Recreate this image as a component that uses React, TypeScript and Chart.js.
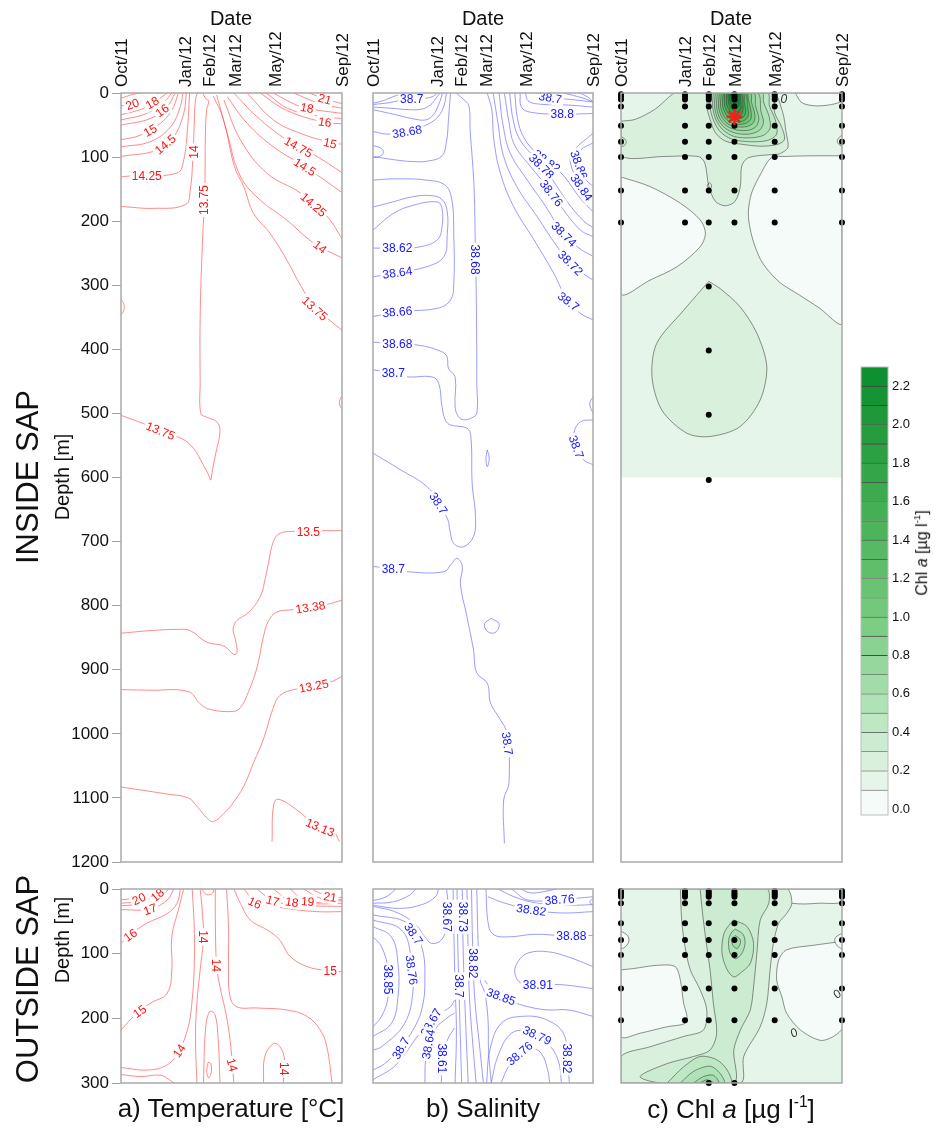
import React, { useEffect, useRef } from "react";
import { Chart, registerables } from "chart.js";

Chart.register(...registerables);

const FONT = "'Liberation Sans', Arial, Helvetica, sans-serif";
Chart.defaults.font.family = FONT;
Chart.defaults.color = "#111";

// ---------------- axes ----------------
const sampleDays = [0, 97, 133, 172, 233, 335];
const dateLabels = ["Oct/11", "Jan/12", "Feb/12", "Mar/12", "May/12", "Sep/12"];
const dayMax = 335;
const depthMaxInside = 1200;
const depthMaxOutside = 300;
const depthStep = 100;

// ---------------- Chl a sampling ----------------
const chlDepthsInside = [2, 6, 10, 21, 51, 76, 100, 152, 202];
const chlDepthsInsideDeep = [302, 402, 502, 604]; // Feb/12 only
const chlDepthsOutside = [3, 6, 9, 12, 22, 53, 79, 102, 154, 203];
const chlDepthsOutsideDeep = [300]; // Feb/12 and Mar/12
const chlMaxStar = [[172, 37]];

// ---------------- colour bar ----------------
const chlLevels = [0.0, 0.1, 0.2, 0.3, 0.4, 0.5, 0.6, 0.7, 0.8, 0.9, 1.0, 1.1, 1.2, 1.3, 1.4, 1.5, 1.6, 1.7, 1.8, 1.9, 2.0, 2.1, 2.2, 2.3];
const chlTicks = [0.0, 0.2, 0.4, 0.6, 0.8, 1.0, 1.2, 1.4, 1.6, 1.8, 2.0, 2.2];
const chlBandColors = ["#f4fbf8", "#e5f5e9", "#d8f0dc", "#cbecd0", "#bee7c4", "#b0e2b7", "#a2dca9", "#95d79c", "#89d290", "#7ecd85", "#74c87b", "#6ac372", "#60be6a", "#57b963", "#4eb45c", "#45af55", "#3daa4f", "#35a549", "#2da043", "#259c3e", "#1e9839", "#169435", "#0e9031"];

// ---------------- a) Temperature, inside SAP  [day, depth] ----------------
const tIn21L = [[0, 8], [19, 2], [30, 0]];
const tIn20L = [[0, 20], [19, 17], [44, 8], [57, 0]];
const tIn18L = [[0, 34], [34, 24], [55, 11], [70, 0]];
const tIn17L = [[0, 42], [39, 32], [65, 14], [77, 0]];
const tIn16L = [[0, 50], [44, 40], [70, 21], [82, 0]];
const tIn15L = [[0, 73], [29, 66], [60, 47], [77, 27], [87, 0]];
const tIn1475L = [[0, 84], [44, 76], [75, 53], [90, 21], [94, 0]];
const tIn145L = [[0, 99], [55, 89], [80, 68], [95, 32], [99, 0]];
const tIn1425L = [[0, 131], [19, 129], [85, 125], [95, 105], [101, 53], [104, 0]];
const tIn14L = [[0, 177], [50, 180], [98, 174], [105, 151], [109, 100], [111, 50], [113, 10], [116, 0]];
const tIn1375 = [[124, 0], [128, 8], [133, 13], [130, 25], [128, 60], [127, 150], [123, 245], [120, 350], [120, 450], [121, 500], [130, 506], [145, 513], [150, 528], [143, 565], [138, 592], [136, 604], [133, 597], [130, 590], [102, 546], [60, 528], [34, 516], [0, 503]];
const tIn21R = [[285, 0], [309, 9], [336, 17]];
const tIn20R = [[262, 0], [300, 16], [336, 24]];
const tIn18R = [[231, 0], [262, 17], [282, 24], [336, 32]];
const tIn17R = [[220, 0], [255, 25], [300, 36], [336, 40]];
const tIn16R = [[211, 0], [251, 27], [309, 46], [336, 48]];
const tIn15R = [[191, 0], [231, 42], [272, 63], [317, 77], [336, 80]];
const tIn1475R = [[171, 0], [206, 37], [251, 73], [297, 99], [336, 125]];
const tIn145R = [[161, 6], [191, 47], [231, 84], [282, 117], [336, 156]];
const tIn1425R = [[156, 11], [181, 73], [221, 125], [272, 156], [312, 192], [336, 229]];
const tIn14R = [[145, 3], [161, 63], [181, 130], [211, 167], [251, 198], [292, 234], [336, 258]];
const tIn1375R = [[140, 5], [155, 40], [172, 115], [186, 146], [201, 188], [226, 219], [251, 260], [272, 300], [294, 335], [318, 356], [336, 371]];
const tInLoopL = [[0, 322], [4, 328], [5, 335], [3, 342], [0, 346]];
const tInLoopR = [[336, 472], [332, 478], [331, 485], [333, 490], [336, 494]];
const tIn135 = [[336, 683], [302, 683], [267, 684], [241, 687], [231, 700], [224, 731], [219, 756], [211, 786], [193, 811], [176, 823], [170, 836], [173, 851], [176, 873], [171, 876], [156, 863], [130, 857], [105, 839], [87, 837], [44, 839], [0, 843]];
const tIn1338 = [[336, 791], [312, 798], [262, 806], [236, 810], [224, 823], [216, 848], [206, 897], [191, 940], [181, 959], [171, 965], [135, 962], [120, 953], [102, 934], [44, 932], [0, 931]];
const tIn1325 = [[336, 910], [317, 919], [262, 931], [241, 940], [231, 959], [216, 1008], [201, 1045], [186, 1082], [171, 1106], [161, 1119], [140, 1137], [130, 1131], [115, 1113], [102, 1100], [70, 1094], [0, 1083]];
const tIn1313 = [[229, 1168], [231, 1113], [238, 1102], [267, 1119], [292, 1140], [322, 1153], [331, 1168]];
const tempInsideLines = [tIn21L, tIn20L, tIn18L, tIn17L, tIn16L, tIn15L, tIn1475L, tIn145L, tIn1425L, tIn14L, tIn1375, tIn21R, tIn20R, tIn18R, tIn17R, tIn16R, tIn15R, tIn1475R, tIn145R, tIn1425R, tIn14R, tIn1375R, tInLoopL, tInLoopR, tIn135, tIn1338, tIn1325, tIn1313];
const tempInsideLabels = [
  [17, 17, "20", -20], [47, 15, "18", -30], [62, 27, "16", -35], [44, 58, "15", -30], [67, 80, "14.5", -40], [39, 129, "14.25", 0],
  [110, 92, "14", -90], [126, 167, "13.75", -90], [60, 527, "13.75", 22],
  [309, 9, "21", 15], [282, 23, "18", 10], [309, 45, "16", 8], [317, 78, "15", 12], [269, 84, "14.75", 29], [279, 115, "14.5", 32],
  [292, 174, "14.25", 41], [302, 240, "14", 38], [294, 336, "13.75", 42],
  [284, 684, "13.5", 0], [287, 802, "13.38", -9], [292, 925, "13.25", -11], [302, 1146, "13.13", 23],
];

// ---------------- a) Temperature, outside SAP ----------------
const tOut20L = [[0, 17], [19, 14], [44, 7], [57, 0]];
const tOut19L = [[0, 22], [29, 19], [55, 9], [65, 0]];
const tOut18L = [[0, 26], [39, 22], [62, 11], [72, 0]];
const tOut17L = [[0, 32], [44, 31], [70, 17], [80, 0]];
const tOut16L = [[0, 84], [14, 71], [39, 53], [70, 38], [85, 22], [90, 0]];
const tOut15L = [[0, 218], [24, 192], [44, 177], [70, 161], [77, 125], [77, 74], [87, 32], [95, 0]];
const tOut14L = [[0, 276], [40, 280], [70, 272], [88, 250], [102, 213], [108, 170], [111, 120], [111, 60], [108, 0]];
const tOut14BL = [[0, 287], [30, 290], [60, 288], [75, 296], [80, 300]];
const tOut14a = [[120, 0], [123, 32], [125, 74], [120, 125], [115, 177], [113, 228], [115, 300]];
const tOut14b = [[143, 0], [143, 48], [145, 120], [150, 151], [161, 203], [168, 259], [171, 300]];
const tOutTopLoop = [[123, 0], [127, 7], [133, 9], [139, 6], [141, 0]];
const tOutArch = [[125, 300], [128, 218], [134, 190], [142, 193], [147, 228], [150, 300]];
const tOutLoopB = [[132, 268], [136, 270], [137, 282], [133, 292], [130, 282], [132, 268]];
const tOut145R = [[160, 0], [163, 60], [163, 120], [165, 165], [175, 182], [206, 184], [251, 187], [282, 197], [302, 218], [312, 244], [320, 300]];
const tOut15R = [[171, 0], [181, 22], [196, 48], [221, 63], [236, 74], [244, 84], [256, 104], [282, 120], [312, 126], [336, 128]];
const tOut16R = [[186, 0], [206, 21], [251, 30], [297, 35], [336, 35]];
const tOut17R = [[206, 0], [231, 18], [272, 25], [336, 27]];
const tOut18R = [[231, 0], [259, 20], [297, 23], [336, 22]];
const tOut19R = [[256, 0], [282, 19], [336, 18]];
const tOut20R = [[277, 0], [302, 14], [336, 16]];
const tOut21R = [[292, 2], [317, 12], [336, 13]];
const tOut14Blob = [[216, 300], [218, 259], [231, 239], [241, 244], [248, 265], [246, 300]];
const tempOutsideLines = [tOut20L, tOut19L, tOut18L, tOut17L, tOut16L, tOut15L, tOut14L, tOut14BL, tOut14a, tOut14b, tOutTopLoop, tOutArch, tOutLoopB, tOut145R, tOut15R, tOut16R, tOut17R, tOut18R, tOut19R, tOut20R, tOut21R, tOut14Blob];
const tempOutsideLabels = [
  [27, 15, "20", -25], [55, 9, "18", -40], [44, 31, "17", -20], [14, 71, "16", -35], [28, 189, "15", -35], [88, 250, "14", -55],
  [125, 74, "14", 90], [145, 118, "14", 90], [169, 272, "14", 75], [247, 278, "14", 90],
  [203, 21, "16", 25], [230, 18, "17", 15], [259, 20, "18", 8], [283, 19, "19", 5], [317, 12, "21", 8], [317, 126, "15", 0],
];

// ---------------- b) Salinity, inside SAP ----------------
const sIn1 = [[0, 16], [15, 12], [30, 6], [45, 0]];
const sIn2 = [[0, 18], [25, 15], [50, 10], [70, 9], [90, 6], [98, 0]];
const sIn3 = [[0, 22], [30, 24], [55, 26], [75, 25], [88, 18], [96, 8], [102, 0]];
const sIn4 = [[0, 26], [35, 34], [60, 40], [80, 42], [92, 34], [100, 18], [106, 0]];
const sIn5 = [[0, 60], [20, 64], [45, 62], [65, 56], [85, 48], [100, 36], [108, 20], [112, 0]];
const sIn6 = [[0, 99], [31, 104], [60, 107], [85, 106], [105, 98], [112, 75], [115, 40], [118, 0]];
const sInLobe = [[0, 82], [12, 86], [16, 93], [10, 99], [0, 101]];
const sIn62 = [[0, 214], [31, 188], [62, 175], [98, 170], [105, 180], [105, 209], [98, 229], [72, 240], [37, 242], [0, 242]];
const sIn64 = [[0, 178], [30, 170], [60, 162], [87, 160], [105, 166], [113, 185], [113, 220], [108, 255], [82, 271], [37, 280], [0, 287]];
const sIn66 = [[0, 136], [31, 134], [82, 136], [110, 144], [120, 167], [123, 220], [123, 297], [118, 323], [98, 336], [37, 341], [0, 349]];
const sIn68 = [[0, 389], [37, 391], [72, 394], [98, 401], [112, 410], [115, 430], [125, 443], [125, 490], [130, 505], [138, 510], [150, 507], [158, 500], [158, 450], [158, 400], [157, 300], [156, 250], [154, 150], [151, 100], [148, 60], [146, 20], [138, 10], [130, 3], [128, 0]];
const sIn70a = [[0, 432], [31, 437], [52, 443], [90, 443], [100, 453], [105, 489], [110, 510], [118, 518], [143, 523], [149, 536], [151, 609], [156, 661], [153, 692], [138, 708], [123, 703], [117, 682], [114, 666], [100, 640], [82, 614], [42, 588], [0, 562]];
const sIn70b = [[0, 739], [31, 742], [52, 747], [108, 747], [120, 734], [128, 726], [136, 739], [133, 765], [143, 817], [153, 869], [158, 905], [174, 921], [179, 952], [194, 978], [204, 999], [207, 1077], [199, 1103], [200, 1171]];
const sInLoopA = [[174, 557], [177, 570], [174, 583], [172, 570], [174, 557]];
const sInLoopB = [[180, 820], [192, 828], [186, 842], [174, 840], [170, 828], [180, 820]];
const sInR70small = [[335, 474], [330, 485], [335, 500]];
const sInR70 = [[335, 510], [316, 513], [306, 531], [311, 557], [321, 573], [335, 580]];
const sInR1 = [[174, 0], [181, 27], [184, 73], [194, 125], [214, 177], [245, 229], [275, 281], [296, 323], [316, 344], [335, 354]];
const sInR2 = [[183, 0], [190, 45], [199, 99], [219, 146], [250, 193], [280, 239], [306, 271], [335, 292]];
const sInR3 = [[192, 0], [198, 50], [209, 94], [235, 136], [263, 177], [286, 214], [311, 240], [335, 255]];
const sInR4 = [[200, 0], [207, 45], [215, 80], [240, 115], [265, 146], [286, 177], [316, 214], [335, 224]];
const sInR5 = [[208, 0], [214, 45], [225, 75], [250, 105], [273, 135], [296, 170], [321, 200], [335, 210]];
const sInR6 = [[216, 0], [220, 40], [230, 70], [250, 95], [270, 110], [291, 130], [316, 165], [335, 185]];
const sInR7 = [[335, 63], [306, 89], [300, 104], [310, 134], [326, 160], [335, 168]];
const sInR8 = [[335, 78], [316, 89], [311, 104], [321, 131], [335, 146]];
const sInTop80 = [[224, 0], [226, 22], [240, 30], [286, 33], [335, 32]];
const sInTop82 = [[232, 0], [236, 12], [250, 17], [300, 19], [335, 22]];
const sInTop70 = [[248, 0], [270, 7], [300, 10], [335, 14]];
const sInRad1 = [[290, 0], [320, 8], [335, 14]];
const sInRad2 = [[315, 0], [328, 7], [335, 14]];
const salInsideLines = [sIn1, sIn2, sIn3, sIn4, sIn5, sIn6, sInLobe, sIn62, sIn64, sIn66, sIn68, sIn70a, sIn70b, sInLoopA, sInLoopB, sInR70small, sInR70, sInR1, sInR2, sInR3, sInR4, sInR5, sInR6, sInR7, sInR8, sInTop80, sInTop82, sInTop70, sInRad1, sInRad2];
const salInsideLabels = [
  [59, 9, "38.7", 0], [52, 60, "38.68", -10], [37, 242, "38.62", 0], [37, 280, "38.64", -8], [37, 341, "38.66", -5], [37, 391, "38.68", 0],
  [156, 260, "38.68", 90], [31, 437, "38.7", 0], [100, 640, "38.7", 57], [31, 742, "38.7", 0], [205, 1015, "38.7", 82], [310, 552, "38.7", 70],
  [270, 7, "38.7", 10], [288, 33, "38.8", 0], [265, 106, "38.82", 36], [257, 114, "38.78", 45], [272, 156, "38.76", 52],
  [291, 220, "38.74", 45], [301, 265, "38.72", 45], [298, 325, "38.7", 38], [314, 112, "38.86", 70], [318, 147, "38.84", 55],
];

// ---------------- b) Salinity, outside SAP ----------------
const sOutL1 = [[0, 74], [13, 89], [23, 125], [23, 167], [13, 197], [0, 213]];
const sOutL2 = [[0, 58], [28, 74], [38, 115], [38, 167], [28, 208], [0, 228]];
const sOutL3 = [[0, 48], [43, 63], [58, 105], [61, 156], [48, 208], [13, 244], [0, 249]];
const sOutL4 = [[0, 40], [53, 53], [74, 89], [79, 141], [74, 187], [58, 223], [38, 249], [18, 270], [0, 280]];
const sOutL5 = [[0, 27], [33, 35], [63, 53], [79, 74], [89, 84], [104, 79], [112, 58], [114, 22], [112, 0]];
const sOutTL1 = [[0, 18], [20, 12], [35, 0]];
const sOutTL2 = [[0, 22], [30, 20], [55, 10], [65, 0]];
const sOutTL3 = [[0, 25], [40, 30], [75, 24], [95, 12], [100, 0]];
const sOutB1 = [[0, 295], [35, 272], [70, 225], [99, 195], [118, 182], [124, 172]];
const sOutB2 = [[79, 300], [81, 259], [94, 218], [112, 200], [124, 192]];
const sOutB3 = [[104, 300], [106, 259], [114, 232], [124, 215]];
const sOutV1 = [[122, 0], [123, 60], [125, 150], [127, 220], [125, 300]];
const sOutV2 = [[128, 0], [129, 80], [131, 160], [133, 230], [135, 300]];
const sOutV3 = [[136, 0], [137, 80], [139, 150], [142, 230], [145, 300]];
const sOutV4 = [[143, 0], [145, 100], [147, 170], [152, 240], [157, 300]];
const sOutV5 = [[150, 0], [152, 100], [155, 170], [162, 240], [168, 300]];
const sOutV6 = [[158, 0], [160, 80], [163, 140], [170, 160], [175, 200], [176, 250], [180, 300]];
const sOut88 = [[172, 0], [175, 50], [183, 70], [206, 74], [246, 70], [287, 72], [335, 72]];
const sOut91 = [[335, 120], [297, 105], [266, 97], [236, 99], [221, 112], [216, 130], [226, 146], [251, 148], [287, 148], [335, 154]];
const sOut85 = [[170, 141], [185, 161], [206, 172], [236, 182], [266, 187], [297, 187], [335, 197]];
const sOutTR1 = [[175, 12], [201, 22], [241, 32], [287, 37], [335, 35]];
const sOutTR2 = [[211, 0], [236, 17], [287, 16], [335, 12]];
const sOutTR3 = [[190, 0], [215, 12], [240, 20], [270, 24], [310, 25], [335, 24]];
const sOutTR4 = [[225, 0], [240, 6], [260, 4], [280, 0]];
const sOutTRloop = [[335, 15], [330, 20], [335, 25]];
const sOutA1 = [[195, 300], [206, 275], [223, 254], [241, 246], [256, 254], [266, 280], [269, 300]];
const sOutA2 = [[180, 300], [190, 259], [211, 223], [239, 221], [266, 239], [282, 265], [287, 300]];
const sOutA3 = [[173, 300], [178, 249], [195, 208], [226, 197], [266, 203], [292, 228], [299, 300]];
const salOutsideLines = [sOutL1, sOutL2, sOutL3, sOutL4, sOutL5, sOutTL1, sOutTL2, sOutTL3, sOutB1, sOutB2, sOutB3, sOutV1, sOutV2, sOutV3, sOutV4, sOutV5, sOutV6, sOut88, sOut91, sOut85, sOutTR1, sOutTR2, sOutTR3, sOutTR4, sOutTRloop, sOutA1, sOutA2, sOutA3];
const salOutsideLabels = [
  [113, 43, "38.67", 90], [137, 43, "38.73", 90], [153, 115, "38.82", 90], [131, 150, "38.7", 90],
  [62, 69, "38.7", 55], [59, 125, "38.76", 82], [23, 140, "38.85", 90], [302, 72, "38.88", 0], [251, 148, "38.91", 0],
  [195, 166, "38.85", 20], [241, 32, "38.82", 8], [284, 16, "38.76", -5], [250, 226, "38.79", 25], [223, 254, "38.76", -40],
  [296, 262, "38.82", 90], [42, 246, "38.7", -60], [88, 206, "38.67", -60], [84, 240, "38.64", -80], [106, 262, "38.61", 90],
];

// ---------------- c) Chl a, inside SAP: filled contour regions [day, depth] + level ----------------
const cInBase = [[0, 0], [335, 0], [335, 600], [0, 600]];
const cInWhiteL = [[0, 131], [44, 146], [90, 172], [120, 198], [128, 219], [120, 240], [85, 271], [44, 292], [0, 313]];
const cInWhiteR = [[335, 98], [290, 98], [250, 99], [228, 101], [213, 124], [198, 156], [193, 187], [196, 213], [203, 239], [215, 266], [240, 295], [270, 315], [300, 335], [335, 359]];
const cInWhiteTR = [[264, 0], [274, 15], [294, 20], [319, 18], [335, 12], [335, 0]];
const cInUpper = [[0, 44], [22, 41], [52, 25], [72, 7], [82, 0], [230, 0], [245, 30], [250, 60], [253, 85], [240, 95], [228, 96], [193, 101], [183, 114], [181, 145], [173, 169], [158, 176], [143, 169], [133, 145], [127, 109], [117, 99], [67, 99], [0, 98]];
const cInDrop = [[133, 294], [95, 339], [54, 391], [47, 443], [62, 495], [100, 531], [135, 536], [180, 521], [211, 479], [221, 427], [206, 375], [180, 333], [150, 305]];
const cInRing1 = [[133, 0], [130, 20], [135, 41], [143, 62], [158, 75], [183, 80], [213, 83], [238, 80], [248, 72], [243, 52], [233, 31], [228, 0]];
const cInRing2 = [[137, 0], [135, 22], [140, 42], [150, 60], [168, 72], [195, 76], [222, 74], [236, 64], [234, 42], [225, 20], [222, 0]];
const cInRing3 = [[140, 0], [139, 22], [144, 42], [155, 58], [172, 68], [196, 70], [216, 66], [226, 55], [224, 35], [216, 14], [214, 0]];
const cInRing4 = [[143, 0], [142, 22], [147, 41], [158, 55], [175, 63], [195, 64], [210, 58], [216, 46], [212, 28], [207, 0]];
const cInRing5 = [[146, 0], [145, 22], [150, 40], [161, 52], [177, 58], [194, 58], [205, 52], [209, 40], [204, 20], [201, 0]];
const cInRing6 = [[149, 0], [148, 22], [153, 38], [163, 49], [178, 53], [192, 52], [201, 46], [203, 34], [198, 15], [196, 0]];
const cInRing7 = [[152, 0], [151, 21], [156, 36], [166, 46], [179, 49], [190, 47], [197, 40], [197, 28], [193, 10], [191, 0]];
const cInRing8 = [[155, 0], [154, 20], [159, 33], [168, 42], [179, 45], [188, 42], [193, 35], [192, 22], [188, 0]];
const cInRing9 = [[157, 0], [157, 19], [162, 31], [170, 38], [179, 40], [186, 37], [189, 29], [187, 15], [185, 0]];
const cInRing10 = [[160, 0], [160, 17], [165, 28], [172, 34], [179, 35], [184, 31], [185, 22], [182, 0]];
const cInRing11 = [[162, 0], [163, 15], [167, 24], [173, 29], [179, 29], [182, 23], [181, 10], [180, 0]];
const cInRing12 = [[164, 0], [165, 12], [169, 20], [174, 23], [178, 21], [179, 12], [178, 0]];
const cInRing13 = [[166, 0], [167, 10], [171, 16], [175, 17], [177, 10], [176, 0]];
const chlInsideRegions = [cInBase, cInWhiteL, cInWhiteR, cInWhiteTR, cInUpper, cInDrop, cInRing1, cInRing2, cInRing3, cInRing4, cInRing5, cInRing6, cInRing7, cInRing8, cInRing9, cInRing10, cInRing11, cInRing12, cInRing13];
const chlInsideRegionLevels = [0.1, 0.0, 0.0, 0.0, 0.2, 0.2, 0.3, 0.4, 0.5, 0.6, 0.7, 0.9, 1.1, 1.3, 1.5, 1.7, 1.9, 2.1, 2.2];
const cInLoopL = [[0, 68], [6, 72], [8, 77], [5, 82], [0, 84]];
const cInLoopR = [[335, 66], [330, 70], [328, 76], [331, 81], [335, 83]];
const cInLoopFeb = [[134, 140], [137, 143], [136, 149], [132, 148], [131, 143], [134, 140]];
const chlInsideLines = [cInLoopL, cInLoopR, cInLoopFeb];
const chlInsideLabels = [[247, 9, "0", 0]];

// ---------------- c) Chl a, outside SAP ----------------
const cOutBase = [[0, 0], [335, 0], [335, 300], [0, 300]];
const cOutWhiteL = [[0, 125], [19, 123], [55, 118], [82, 120], [90, 141], [95, 177], [100, 197], [97, 208], [70, 213], [29, 223], [0, 228]];
const cOutWhiteR = [[336, 81], [292, 87], [251, 94], [239, 110], [236, 141], [244, 167], [251, 192], [272, 218], [302, 234], [322, 228], [336, 213]];
const cOutWhiteTR = [[232, 0], [245, 18], [270, 23], [300, 22], [335, 20], [335, 0]];
const cOutBumpL = [[0, 65], [10, 72], [12, 80], [8, 88], [0, 92]];
const cOutBumpR = [[336, 68], [326, 74], [324, 80], [328, 88], [336, 92]];
const cOutBand2 = [[90, 0], [251, 0], [259, 22], [251, 38], [239, 53], [231, 84], [226, 125], [221, 177], [211, 213], [186, 259], [181, 300], [0, 300], [0, 259], [44, 244], [95, 228], [125, 218], [130, 187], [120, 156], [105, 125], [97, 89], [92, 48]];
const cOutBand3 = [[120, 0], [221, 0], [224, 22], [211, 48], [206, 99], [201, 151], [196, 187], [181, 218], [171, 249], [171, 300], [60, 300], [29, 290], [70, 270], [110, 259], [135, 249], [145, 223], [140, 177], [135, 125], [128, 74], [123, 32]];
const cOutCore1 = [[171, 48], [191, 58], [201, 84], [196, 115], [181, 130], [171, 136], [161, 125], [153, 99], [156, 69], [166, 53]];
const cOutCore2 = [[173, 62], [185, 70], [188, 84], [183, 100], [173, 108], [165, 98], [163, 80], [167, 68]];
const cOutCore3 = [[173, 72], [180, 77], [181, 84], [176, 92], [170, 88], [168, 78]];
const cOutDeep1 = [[70, 300], [95, 275], [120, 259], [145, 264], [161, 280], [166, 300]];
const cOutDeep2 = [[90, 300], [110, 282], [135, 274], [150, 285], [156, 300]];
const cOutDeep3 = [[110, 300], [125, 290], [140, 288], [148, 300]];
const cOutDeep4 = [[120, 300], [130, 295], [140, 300]];
const chlOutsideRegions = [cOutBase, cOutWhiteL, cOutWhiteR, cOutWhiteTR, cOutBumpL, cOutBumpR, cOutBand2, cOutBand3, cOutCore1, cOutCore2, cOutCore3, cOutDeep1, cOutDeep2, cOutDeep3, cOutDeep4];
const chlOutsideRegionLevels = [0.1, 0.0, 0.0, 0.0, 0.0, 0.0, 0.2, 0.3, 0.4, 0.5, 0.6, 0.4, 0.5, 0.6, 0.7];
const chlOutsideLabels = [[327, 162, "0", -45], [262, 222, "0", -30]];

// ---------------- layout (pixels) ----------------
const PAGE_W = 937;
const PAGE_H = 1129;
const RECT = {
  aTop: { l: 121, t: 93, r: 342, b: 862 },
  bTop: { l: 373, t: 93, r: 593, b: 862 },
  cTop: { l: 621, t: 93, r: 842, b: 862 },
  aBot: { l: 121, t: 889, r: 342, b: 1083 },
  bBot: { l: 373, t: 889, r: 593, b: 1083 },
  cBot: { l: 621, t: 889, r: 842, b: 1083 },
  bar: { l: 861, t: 367, r: 888, b: 815 },
};
const TEMP_LINE = "rgba(255,70,70,0.7)";
const TEMP_TEXT = "#ff1010";
const SAL_LINE = "rgba(95,95,255,0.7)";
const SAL_TEXT = "#1515ff";
const FRAME = "#a9a9a9";
const CB_MIN = -0.03;
const DATE_LABEL_SHIFT = 22;

const pts = (a) => a.map(([x, y]) => ({ x, y }));
const bandColor = (level) => chlBandColors[Math.max(0, Math.min(22, Math.round(level * 10)))];

function lineSet(arr, color) {
  return { data: pts(arr), borderColor: color, borderWidth: 0.9, pointRadius: 0, tension: 0.4, fill: false };
}

function regionSet(arr, level, border) {
  return {
    data: pts([...arr, arr[0]]),
    borderColor: border ? "rgba(60,60,60,0.8)" : "rgba(0,0,0,0)",
    borderWidth: border ? 0.7 : 0,
    backgroundColor: bandColor(level),
    fill: "shape",
    pointRadius: 0,
    tension: border ? 0.3 : 0,
  };
}

function labelPlugin(items, color, size, italic, backdrop) {
  return {
    id: "contourLabels",
    afterDatasetsDraw(chart) {
      const { ctx, chartArea: a, scales } = chart;
      ctx.save();
      ctx.beginPath();
      ctx.rect(a.left, a.top, a.right - a.left, a.bottom - a.top);
      ctx.clip();
      ctx.font = `${italic ? "italic " : ""}${size}px ${FONT}`;
      ctx.textAlign = "center";
      ctx.textBaseline = "middle";
      for (const [x, y, text, rot] of items) {
        const px = scales.x.getPixelForValue(x);
        const py = scales.y.getPixelForValue(y);
        ctx.save();
        ctx.translate(px, py);
        ctx.rotate((rot * Math.PI) / 180);
        const w = ctx.measureText(text).width;
        if (backdrop) {
          ctx.fillStyle = backdrop;
          ctx.fillRect(-w / 2 - 2, -size / 2 - 1, w + 4, size + 2);
        }
        ctx.fillStyle = color;
        ctx.fillText(text, 0, 1);
        ctx.restore();
      }
      ctx.restore();
    },
  };
}

function framePlugin(color, width) {
  return {
    id: "frame",
    afterDraw(chart) {
      const { ctx, chartArea: a } = chart;
      ctx.save();
      ctx.strokeStyle = color;
      ctx.lineWidth = width;
      ctx.strokeRect(a.left, a.top, a.right - a.left, a.bottom - a.top);
      ctx.restore();
    },
  };
}

function panelConfig({ rect, yMax, yAxis, dates, datasets, plugins }) {
  const { l, t, r, b } = rect;
  return {
    type: "line",
    data: { datasets },
    options: {
      responsive: false,
      animation: false,
      events: [],
      layout: { padding: { left: yAxis ? 0 : l, top: dates ? 0 : t, right: PAGE_W - r, bottom: PAGE_H - b } },
      plugins: { legend: { display: false }, tooltip: { enabled: false } },
      scales: {
        x: {
          type: "linear",
          position: "top",
          min: 0,
          max: dayMax,
          display: dates,
          afterBuildTicks: (s) => {
            s.ticks = sampleDays.map((v) => ({ value: v }));
          },
          afterFit: (s) => {
            if (dates) s.height = t;
          },
          ticks: {
            autoSkip: false,
            minRotation: 90,
            maxRotation: 90,
            padding: 6,
            labelOffset: DATE_LABEL_SHIFT,
            color: "#111",
            font: { size: 17 },
            callback: (v, i) => dateLabels[i],
          },
          grid: { display: false, drawTicks: false },
          border: { display: false },
        },
        y: {
          type: "linear",
          reverse: true,
          min: 0,
          max: yMax,
          display: yAxis,
          afterFit: (s) => {
            if (yAxis) s.width = l;
          },
          ticks: { stepSize: depthStep, color: "#111", font: { size: 17 }, padding: 3, autoSkip: false, callback: (v) => String(v) },
          grid: { drawOnChartArea: false, drawTicks: true, tickLength: 9, color: "#a0a0a0" },
          border: { display: false },
        },
      },
    },
    plugins,
  };
}

function contourPanel(rect, yMax, yAxis, dates, lines, labels, lineColor, textColor) {
  return () =>
    panelConfig({
      rect,
      yMax,
      yAxis,
      dates,
      datasets: lines.map((ln) => lineSet(ln, lineColor)),
      plugins: [labelPlugin(labels, textColor, 12, false, "#ffffff"), framePlugin(FRAME, 1.5)],
    });
}

function chlPanel(rect, yMax, dates, regions, levels, extraLines, labels, deepDays, shallowDepths, deepDepths) {
  return () => {
    const ds = [];
    regions.forEach((reg, i) => ds.push(regionSet(reg, levels[i], i > 0)));
    extraLines.forEach((ln) => ds.push({ ...lineSet(ln, "rgba(60,60,60,0.8)"), borderWidth: 0.7, tension: 0.4 }));
    const dots = [];
    sampleDays.forEach((d, i) => {
      shallowDepths.forEach((z) => dots.push({ x: d, y: z }));
      if (deepDays.includes(dateLabels[i])) deepDepths.forEach((z) => dots.push({ x: d, y: z }));
    });
    ds.push({ data: dots, showLine: false, pointRadius: 3, pointBackgroundColor: "#000", pointBorderWidth: 0, clip: false });
    if (dates) {
      ds.push({
        data: pts(chlMaxStar),
        showLine: false,
        pointStyle: "star",
        pointRadius: 8,
        pointBorderColor: "#ff1a1a",
        pointBorderWidth: 2.6,
        pointBackgroundColor: "#ff1a1a",
      });
    }
    ds.forEach((d, i) => {
      d.order = ds.length - i;
    });
    return panelConfig({
      rect,
      yMax,
      yAxis: false,
      dates,
      datasets: ds,
      plugins: [labelPlugin(labels, "#333", 12, true, null), framePlugin(FRAME, 1.5)],
    });
  };
}

function colorbarConfig() {
  const { l, t, r, b } = RECT.bar;
  const axisW = 40;
  return {
    type: "bar",
    data: {
      labels: ["Chl a"],
      datasets: chlBandColors.map((c, i) => ({
        data: [[i === 0 ? CB_MIN : chlLevels[i], chlLevels[i + 1]]],
        backgroundColor: c,
        borderColor: "rgba(45,45,45,0.85)",
        borderWidth: { top: i < chlBandColors.length - 1 ? 0.8 : 0, bottom: 0, left: 0, right: 0 },
        borderSkipped: false,
        grouped: false,
        barPercentage: 1,
        categoryPercentage: 1,
      })),
    },
    options: {
      responsive: false,
      animation: false,
      events: [],
      layout: { padding: { left: l, top: t, bottom: PAGE_H - b, right: PAGE_W - r - axisW } },
      plugins: { legend: { display: false }, tooltip: { enabled: false } },
      scales: {
        x: { display: false },
        y: {
          position: "right",
          min: CB_MIN,
          max: 2.3,
          afterBuildTicks: (s) => {
            s.ticks = chlTicks.map((v) => ({ value: v }));
          },
          afterFit: (s) => {
            s.width = axisW;
          },
          ticks: { callback: (v) => Number(v).toFixed(1), font: { size: 13 }, color: "#111", padding: 4, autoSkip: false },
          grid: { display: false, drawTicks: false },
          border: { display: false },
        },
      },
    },
    plugins: [framePlugin("#bdbdbd", 1)],
  };
}

const makers = [
  contourPanel(RECT.aTop, depthMaxInside, true, true, tempInsideLines, tempInsideLabels, TEMP_LINE, TEMP_TEXT),
  contourPanel(RECT.aBot, depthMaxOutside, true, false, tempOutsideLines, tempOutsideLabels, TEMP_LINE, TEMP_TEXT),
  contourPanel(RECT.bTop, depthMaxInside, false, true, salInsideLines, salInsideLabels, SAL_LINE, SAL_TEXT),
  contourPanel(RECT.bBot, depthMaxOutside, false, false, salOutsideLines, salOutsideLabels, SAL_LINE, SAL_TEXT),
  chlPanel(RECT.cTop, depthMaxInside, true, chlInsideRegions, chlInsideRegionLevels, chlInsideLines, chlInsideLabels, ["Feb/12"], chlDepthsInside, chlDepthsInsideDeep),
  chlPanel(RECT.cBot, depthMaxOutside, false, chlOutsideRegions, chlOutsideRegionLevels, [], chlOutsideLabels, ["Feb/12", "Mar/12"], chlDepthsOutside, chlDepthsOutsideDeep),
  colorbarConfig,
];

function ChartCanvas({ make }) {
  const ref = useRef(null);
  useEffect(() => {
    const chart = new Chart(ref.current, make());
    return () => chart.destroy();
  }, [make]);
  return (
    <canvas
      ref={ref}
      width={PAGE_W}
      height={PAGE_H}
      style={{ position: "absolute", left: 0, top: 0, width: PAGE_W, height: PAGE_H }}
    />
  );
}

function Txt({ x, y, size, rot = 0, children }) {
  return (
    <div
      style={{
        position: "absolute",
        left: x,
        top: y,
        transform: `translate(-50%, -50%) rotate(${rot}deg)`,
        fontSize: size,
        fontFamily: FONT,
        whiteSpace: "nowrap",
        lineHeight: 1,
        color: "#111",
      }}
    >
      {children}
    </div>
  );
}

const sup = { fontSize: "0.6em", verticalAlign: "0.7em" };

export default function App() {
  return (
    <div
      style={{
        position: "absolute",
        left: 0,
        top: 0,
        width: PAGE_W,
        height: PAGE_H,
        background: "#ffffff",
        overflow: "hidden",
      }}
    >
      {makers.map((m, i) => (
        <ChartCanvas key={i} make={m} />
      ))}
      <Txt x={231} y={18} size={20}>Date</Txt>
      <Txt x={483} y={18} size={20}>Date</Txt>
      <Txt x={731} y={18} size={20}>Date</Txt>
      <Txt x={27} y={477} size={31} rot={-90}>INSIDE SAP</Txt>
      <Txt x={62} y={477} size={20} rot={-90}>Depth [m]</Txt>
      <Txt x={27} y={979} size={31} rot={-90}>OUTSIDE SAP</Txt>
      <Txt x={62} y={940} size={20} rot={-90}>Depth [m]</Txt>
      <Txt x={231} y={1108} size={26}>a) Temperature [°C]</Txt>
      <Txt x={483} y={1108} size={26}>b) Salinity</Txt>
      <Txt x={731} y={1108} size={26}>
        c) Chl <i>a</i> [µg l<span style={sup}>-1</span>]
      </Txt>
      <Txt x={921} y={553} size={16} rot={-90}>
        Chl <i>a</i> [µg l<span style={sup}>-1</span>]
      </Txt>
    </div>
  );
}
